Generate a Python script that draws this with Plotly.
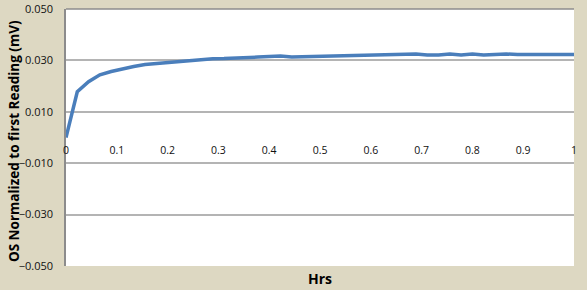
import plotly.graph_objects as go

hrs = [round(i / 45, 4) for i in range(46)]
os_mv = [0.0, 0.0178, 0.0217, 0.0244, 0.0257, 0.0268, 0.0276, 0.0284, 0.0288, 0.0292,
         0.0297, 0.0301, 0.0304, 0.0306, 0.0307, 0.0310, 0.0311, 0.0313, 0.0315, 0.0317,
         0.0313, 0.0314, 0.0316, 0.0318, 0.0318, 0.0319, 0.0319, 0.0320, 0.0322, 0.0322,
         0.0322, 0.0325, 0.0321, 0.0321, 0.0325, 0.0321, 0.0325, 0.0321, 0.0323, 0.0325,
         0.0323, 0.0323, 0.0323, 0.0323, 0.0323, 0.0323]

y_ticks = [-0.05, -0.03, -0.01, 0.01, 0.03, 0.05]
x_ticks = [0, 0.1, 0.2, 0.3, 0.4, 0.5, 0.6, 0.7, 0.8, 0.9, 1]
x_labels = ["0", "0.1", "0.2", "0.3", "0.4", "0.5", "0.6", "0.7", "0.8", "0.9", "1"]

fig = go.Figure()
fig.add_trace(go.Scatter(x=hrs, y=os_mv, mode="lines",
                         line=dict(color="#4A7EBB", width=3.5), showlegend=False))

font_family = "Open Sans, Liberation Sans, sans-serif"
fig.update_layout(
    width=587, height=290,
    margin=dict(l=66, r=13, t=9, b=24, autoexpand=False),
    paper_bgcolor="#DDD8C2",
    plot_bgcolor="#FFFFFF",
    font=dict(family=font_family, color="#111111", size=10),
    xaxis=dict(range=[0, 1], tickvals=x_ticks, ticktext=x_labels,
               anchor="free", position=0.5, showgrid=False, zeroline=False,
               showline=False, ticks="", tickfont=dict(size=10.5),
               ticklabelstandoff=5, automargin=False),
    yaxis=dict(range=[-0.05, 0.05], tickvals=y_ticks, tickformat=".3f",
               showgrid=True, gridcolor="#B4B4B4", gridwidth=1.5,
               zeroline=False, showline=True, linecolor="#8C8C8C", linewidth=1.5,
               ticks="", tickfont=dict(size=11), ticklabelstandoff=9,
               automargin=False),
)
fig.add_shape(type="line", xref="paper", yref="paper", x0=0, x1=1, y0=1, y1=1,
              line=dict(color="#8C8C8C", width=1.5))
fig.update_layout(annotations=[
    dict(text="<b>Hrs</b>", x=0.5, y=-0.047, xref="paper", yref="paper",
         yanchor="middle", showarrow=False, font=dict(size=14, color="#000000")),
    dict(text="<b>OS Normalized to first Reading (mV)</b>", x=-0.1024, y=0.486,
         xref="paper", yref="paper", xanchor="center", yanchor="middle",
         textangle=-90, showarrow=False, font=dict(size=13.5, color="#000000")),
])
fig.write_html("out.html")
